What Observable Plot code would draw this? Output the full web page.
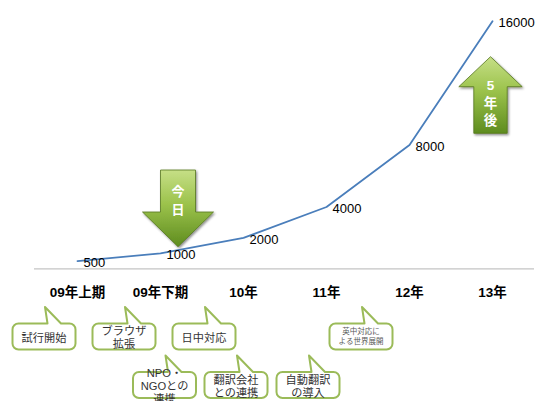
<!DOCTYPE html>
<html><head><meta charset="utf-8">
<script src="https://cdn.jsdelivr.net/npm/d3@7"></script>
<script src="https://cdn.jsdelivr.net/npm/@observablehq/plot@0.6"></script>
<style>
html,body{margin:0;padding:0;background:#fff;}
#chart svg{display:block;}
</style></head><body><div id="chart"></div>
<script>
// ---- data ----
const periods = ["09年上期", "09年下期", "10年", "11年", "12年", "13年"];
const users = [500, 1000, 2000, 4000, 8000, 16000];

// ---- annotations ----
const arrowTexts = ["今日", "5年後"];
const arrowPeriods = ["09年下期", "13年"];
const arrowDirections = ["down", "up"];

const calloutTexts = ["試行開始", "ブラウザ\n拡張", "日中対応", "NPO・\nNGOとの\n連携", "翻訳会社\nとの連携", "自動翻訳\nの導入", "英中対応に\nよる世界展開"];
const calloutPeriods = ["09年上期", "09年下期", "10年", "09年下期", "10年", "11年", "11年"];
const calloutRows = [1, 1, 1, 2, 2, 2, 1];

// ---- layout (positions / styles) ----
const calloutDx = [-33, -36, -39, 4.5, -7, -18, 35];
const rowTop = {1: 323.5, 2: 372};
const arrowDx = [18, -1.5];

const FONT = '"Liberation Sans", Arial, "Noto Sans CJK JP", sans-serif';
const data = periods.map((p, i) => ({period: p, value: users[i]}));

const chart = Plot.plot({
  width: 535,
  height: 401,
  marginLeft: 34,
  marginRight: 1,
  marginTop: 20.7,
  marginBottom: 132.6,
  style: {fontFamily: FONT, background: "white", overflow: "visible"},
  x: {type: "point", domain: periods, padding: 0.5, axis: null},
  y: {domain: [0, 16000], axis: null},
  marks: [
    Plot.ruleY([0], {stroke: "#c4c4c4", strokeWidth: 1.2}),
    Plot.axisX({tickSize: 0, tickPadding: 19, label: null, fontSize: 13.5, fontWeight: "bold", fill: "#000"}),
    Plot.line(data, {x: "period", y: "value", stroke: "#4a7ebb", strokeWidth: 1.8}),
    Plot.text(data, {x: "period", y: "value", text: d => String(d.value), textAnchor: "start", dx: 6, dy: 1.5, fontSize: 13, fill: "#000"})
  ]
});
document.getElementById("chart").appendChild(chart);

const xs = chart.scale("x");
const X = v => xs.apply(v);
const svg = d3.select(chart);
const defs = svg.append("defs");
const grad = defs.append("linearGradient").attr("id", "agrad").attr("x1", 0).attr("y1", 0).attr("x2", 0).attr("y2", 1);
grad.append("stop").attr("offset", "0%").attr("stop-color", "#c6df86");
grad.append("stop").attr("offset", "45%").attr("stop-color", "#9bc24b");
grad.append("stop").attr("offset", "100%").attr("stop-color", "#5e8c1f");
const filt = defs.append("filter").attr("id", "ashadow").attr("x", "-20%").attr("y", "-20%").attr("width", "150%").attr("height", "150%");
filt.append("feDropShadow").attr("dx", 1.2).attr("dy", 1.5).attr("stdDeviation", 1).attr("flood-color", "#000").attr("flood-opacity", 0.45);

// arrows
const ag = svg.append("g");
arrowTexts.forEach((t, i) => {
  const cx = X(arrowPeriods[i]) + arrowDx[i];
  let d, chars, ys, fs;
  if (arrowDirections[i] === "down") {
    const top = 170, headTop = 212, tip = 246.7, sw = 17.5, hw = 35.5;
    d = `M${cx - sw},${top}H${cx + sw}V${headTop}H${cx + hw}L${cx},${tip}L${cx - hw},${headTop}H${cx - sw}Z`;
    ys = [191.5, 209.5];
    fs = 13;
  } else {
    const tip = 56.7, headBot = 86.7, bottom = 133.3, sw = 16.7, hw = 31.7;
    d = `M${cx},${tip}L${cx + hw},${headBot}H${cx + sw}V${bottom}H${cx - sw}V${headBot}H${cx - hw}Z`;
    ys = [85, 103, 120.5];
    fs = 13.5;
  }
  ag.append("path").attr("d", d).attr("fill", "url(#agrad)").attr("stroke", "#55761f").attr("stroke-width", 0.8).attr("filter", "url(#ashadow)");
  Array.from(t).forEach((ch, k) => {
    ag.append("text").attr("x", cx).attr("y", ys[k]).attr("text-anchor", "middle").attr("dominant-baseline", "central")
      .attr("fill", "#fff").attr("font-weight", "bold").attr("font-size", fs).attr("font-family", FONT).text(ch);
  });
});

// callouts
const cg = svg.append("g");
calloutTexts.forEach((t, i) => {
  const cx = X(calloutPeriods[i]) + calloutDx[i];
  const w = 63, h = 26, r = 6;
  const x0 = cx - w / 2, y0 = rowTop[calloutRows[i]], x1 = x0 + w, y1 = y0 + h;
  const tx = cx + 1, ty = y0 - 16.5, b1 = cx + 3.5, b2 = cx + 17;
  const d = `M${x0 + r},${y0}H${b1}L${tx},${ty}L${b2},${y0}H${x1 - r}A${r},${r} 0 0 1 ${x1},${y0 + r}V${y1 - r}A${r},${r} 0 0 1 ${x1 - r},${y1}H${x0 + r}A${r},${r} 0 0 1 ${x0},${y1 - r}V${y0 + r}A${r},${r} 0 0 1 ${x0 + r},${y0}Z`;
  cg.append("path").attr("d", d).attr("fill", "#fff").attr("stroke", "#9bbb59").attr("stroke-width", 2).attr("stroke-linejoin", "round");
  const lines = t.split("\n");
  const small = t.startsWith("英中");
  const fs = small ? 7.5 : 11.2;
  const lh = small ? 10 : 13;
  const cy = y0 + h / 2 + (small ? 0 : 1.3);
  lines.forEach((ln, k) => {
    cg.append("text").attr("x", cx).attr("y", cy + (k - (lines.length - 1) / 2) * lh)
      .attr("text-anchor", "middle").attr("dominant-baseline", "central")
      .attr("fill", small ? "#595959" : "#333").attr("font-size", fs).attr("font-family", FONT).text(ln);
  });
});
</script></body></html>
